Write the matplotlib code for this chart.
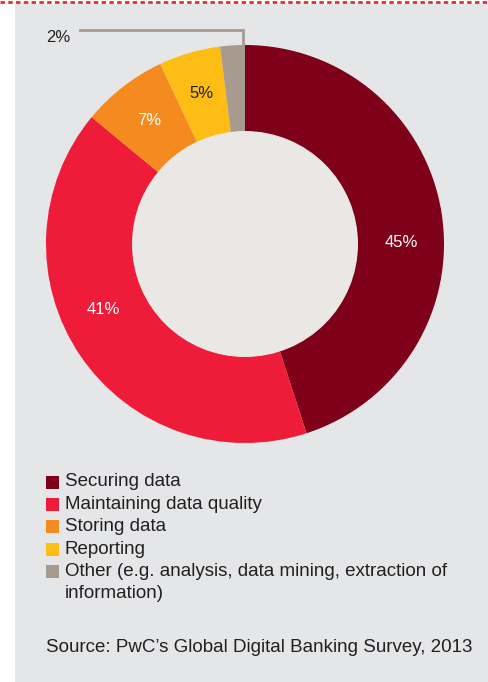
import matplotlib
matplotlib.use("Agg")
import numpy as np
import matplotlib.pyplot as plt
from matplotlib.patches import Rectangle, Circle
from matplotlib.lines import Line2D

plt.rcParams['font.family'] = ['Liberation Sans', 'DejaVu Sans']

# Данные
categories = ['Securing data', 'Maintaining data quality', 'Storing data',
              'Reporting', 'Other (e.g. analysis, data mining, extraction of\ninformation)']
shares = [45, 41, 7, 5, 2]
colors = ['#7e0019', '#ee1c39', '#f58b1f', '#fdbd14', '#a79a8f']
label_colors = ['white', 'white', 'white', '#231f20', '#231f20']
label_shift = [-8.5, -9.5, 0, 0, 0]  # сдвиг подписей по углу, градусы
source_text = "Source: PwC\u2019s Global Digital Banking Survey, 2013"

W, H = 488, 682
fig = plt.figure(figsize=(W / 100, H / 100), dpi=100)
fig.patch.set_facecolor('white')

# серая подложка и пунктир сверху
fig.patches.append(Rectangle((15 / W, 0), 1, (H - 4) / H, transform=fig.transFigure,
                             facecolor='#e5e6e8', edgecolor='none', zorder=-5))
fig.lines.append(Line2D([0, 1], [(H - 2) / H] * 2, transform=fig.transFigure,
                        color='#e0302a', lw=2, linestyle=(0, (1.6, 1.2)), zorder=1))

# кольцевая диаграмма
cx, cy, r = 245, 244, 199
ax = fig.add_axes([(cx - r) / W, (H - cy - r) / H, 2 * r / W, 2 * r / H])
ax.set_zorder(2)
ax.patch.set_alpha(0)

wedges, _ = ax.pie(shares, colors=colors, startangle=90, counterclock=False, radius=1,
                   wedgeprops=dict(linewidth=0))
ax.add_patch(Circle((0, 0), 113 / 199, facecolor='#eae8e5', edgecolor='none', zorder=3))

for w, val, tc, sh in zip(wedges, shares, label_colors, label_shift):
    if val < 3:
        continue
    ang = np.deg2rad((w.theta1 + w.theta2) / 2 + sh)
    ax.text(0.785 * np.cos(ang), 0.785 * np.sin(ang), f'{val}%', color=tc,
            fontsize=12, ha='center', va='center', zorder=4)

# выноска для 2%
other = wedges[-1]
lx = np.cos(np.deg2rad(min(other.theta1, other.theta2))) - 0.01
ax.plot([lx, lx, -0.83], [1.0, 1.075, 1.075], color='#a79a8f', lw=2, clip_on=False,
        solid_joinstyle='miter')
ax.text(-0.94, 1.04, f'{shares[-1]}%', color='#231f20', fontsize=12, ha='center',
        va='center', clip_on=False)

ax.set_xlim(-1, 1)
ax.set_ylim(-1, 1)
ax.set_aspect('equal')
ax.axis('off')

# легенда
y = 482
step = 22.4
for name, c in zip(categories, colors):
    fig.patches.append(Rectangle((46 / W, (H - y - 6.5) / H), 13 / W, 13 / H,
                                 transform=fig.transFigure, facecolor=c, edgecolor='none'))
    for line in name.split('\n'):
        fig.text(65 / W, (H - y) / H, line, fontsize=13.5, color='#231f20', va='center',
                 ha='left')
        y += step

fig.text(46 / W, (H - 648) / H, source_text, fontsize=13.5, color='#231f20',
         va='center', ha='left')

fig.savefig('out.png', dpi=100)
